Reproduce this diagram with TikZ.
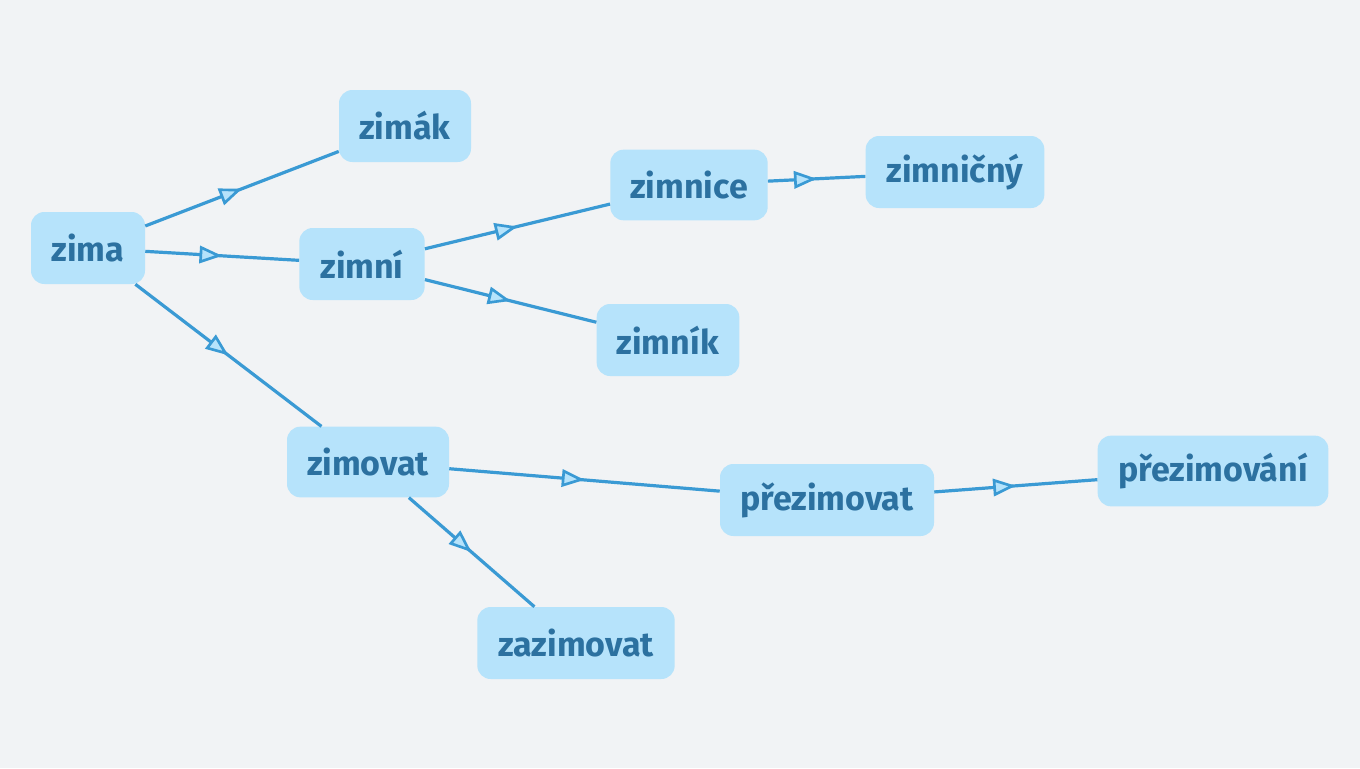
\documentclass[tikz,border=0pt]{standalone}
\usepackage{fontspec}
\setmainfont{Fira Sans}
\usetikzlibrary{arrows.meta,decorations.markings}
\definecolor{bgc}{HTML}{F1F3F5}
\definecolor{nodefill}{HTML}{B6E3FB}
\definecolor{nodetext}{HTML}{2C71A0}
\definecolor{edgec}{HTML}{3A9AD4}
\tikzset{
  word/.style={draw=none, fill=nodefill, rounded corners=10pt, text=nodetext,
    font=\fontsize{25.5}{30}\selectfont\bfseries, inner sep=0pt, anchor=center},
  link/.style={draw=edgec, line width=2.4pt, postaction={decorate},
    decoration={markings, mark=at position 0.5 with {\arrow{Triangle[open, length=17pt, width=13pt, line width=2pt, fill=nodefill]}}}},
}
\begin{document}
\begin{tikzpicture}[x=0.75pt, y=-0.75pt]
\fill[bgc] (0,0) rectangle (1360,768);
\useasboundingbox (0,0) rectangle (1360,768);
\node[word, minimum width=85.5pt, minimum height=54pt] (zima) at (88,248) {zima};
\node[word, minimum width=99pt, minimum height=54pt] (zimak) at (405,126) {zimák};
\node[word, minimum width=94pt, minimum height=54pt] (zimni) at (362,264) {zimní};
\node[word, minimum width=118pt, minimum height=53pt] (zimnice) at (689,185) {zimnice};
\node[word, minimum width=134pt, minimum height=54pt] (zimnicny) at (955,172) {zimničný};
\node[word, minimum width=107pt, minimum height=54pt] (zimnik) at (668,340) {zimník};
\node[word, minimum width=121.5pt, minimum height=53pt] (zimovat) at (368,462) {zimovat};
\node[word, minimum width=160.5pt, minimum height=54pt] (prezimovat) at (827,500) {přezimovat};
\node[word, minimum width=173pt, minimum height=53pt] (prezimovani) at (1213,471) {přezimování};
\node[word, minimum width=148pt, minimum height=54pt] (zazimovat) at (576,643) {zazimovat};
\draw[link] (zima) -- (zimak);
\draw[link] (zima) -- (zimni);
\draw[link] (zima) -- (zimovat);
\draw[link] (zimni) -- (zimnice);
\draw[link] (zimni) -- (zimnik);
\draw[link] (zimnice) -- (zimnicny);
\draw[link] (zimovat) -- (prezimovat);
\draw[link] (zimovat) -- (zazimovat);
\draw[link] (prezimovat) -- (prezimovani);
\end{tikzpicture}
\end{document}
